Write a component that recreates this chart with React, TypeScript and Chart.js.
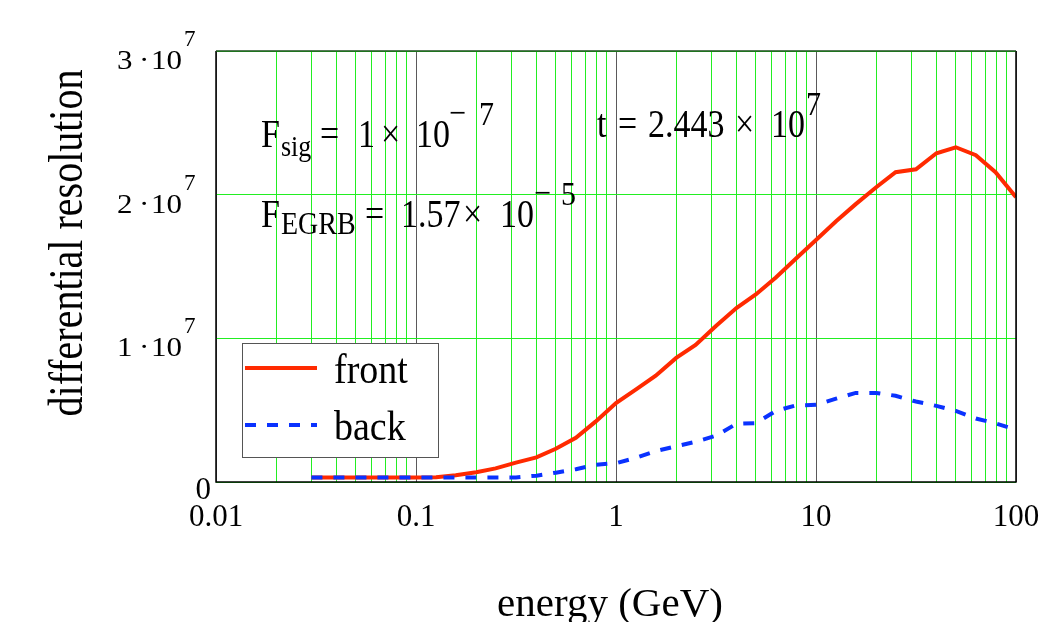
import React, { useEffect, useRef } from 'react';
import { Chart, registerables } from 'chart.js';
Chart.register(...registerables);

const FONT = '"Liberation Serif", "Times New Roman", serif';
const RED = '#ff2a00';
const BLUE = '#0a32ff';
const GREEN = '#22ee22';
const DECADE_GRAY = '#5a5a5a';

// energy (GeV)
const energies = [0.03, 0.04, 0.05, 0.063, 0.079, 0.1, 0.126, 0.158, 0.2, 0.25, 0.316, 0.4, 0.5, 0.63, 0.79, 1, 1.26, 1.58, 2, 2.5, 3.16, 4, 5, 6.3, 7.9, 10, 12.6, 15.8, 20, 25, 31.6, 40, 50, 63, 79, 100];
// differential resolution
const frontValues = [3.2e5, 3.2e5, 3.2e5, 3.2e5, 3.2e5, 3.2e5, 3.3e5, 4.7e5, 6.8e5, 9.5e5, 1.35e6, 1.71e6, 2.31e6, 3.08e6, 4.2e6, 5.5e6, 6.45e6, 7.4e6, 8.64e6, 9.54e6, 1.086e7, 1.211e7, 1.305e7, 1.423e7, 1.552e7, 1.684e7, 1.815e7, 1.934e7, 2.052e7, 2.156e7, 2.177e7, 2.288e7, 2.33e7, 2.275e7, 2.156e7, 1.983e7];
const backValues = [3.2e5, 3.2e5, 3.2e5, 3.2e5, 3.2e5, 3.2e5, 3.2e5, 3.2e5, 3.2e5, 3.2e5, 3.2e5, 4.4e5, 6.5e5, 8.9e5, 1.2e6, 1.31e6, 1.69e6, 2.15e6, 2.49e6, 2.8e6, 3.22e6, 4.05e6, 4.1e6, 4.95e6, 5.33e6, 5.37e6, 5.8e6, 6.2e6, 6.2e6, 6.0e6, 5.6e6, 5.3e6, 4.95e6, 4.42e6, 4.08e6, 3.65e6];

const xTickLabels = ['0.01', '0.1', '1', '10', '100'];
const yTickValues = [0, 1e7, 2e7, 3e7];
const yTickMantissas = ['0', '1', '2', '3'];
const legendOrder = ['front', 'back'];

const isDecade = (v: number) => Math.abs(Math.log10(v) - Math.round(Math.log10(v))) < 1e-6;

function buildLogTicks() {
  const t: { value: number }[] = [];
  for (let k = -2; k < 2; k++) {
    for (let m = 1; m < 10; m++) t.push({ value: Number((m * Math.pow(10, k)).toPrecision(6)) });
  }
  t.push({ value: 100 });
  return t;
}

type Piece = { t: string; x: number; y: number; s: number };
const annotationPieces: Piece[] = [
  { t: 'F', x: 261, y: 147, s: 34 },
  { t: 'sig', x: 281, y: 156, s: 26 },
  { t: '=', x: 320, y: 147, s: 34 },
  { t: '1', x: 358, y: 147, s: 34 },
  { t: '×', x: 381, y: 147, s: 34 },
  { t: '10', x: 416, y: 147, s: 34 },
  { t: '−', x: 449, y: 124, s: 30 },
  { t: '7', x: 479, y: 125, s: 30 },
  { t: 'F', x: 261, y: 227, s: 34 },
  { t: 'EGRB', x: 281, y: 234, s: 28 },
  { t: '=', x: 365, y: 227, s: 34 },
  { t: '1.57', x: 401, y: 227, s: 34 },
  { t: '×', x: 463, y: 227, s: 34 },
  { t: '10', x: 500, y: 227, s: 34 },
  { t: '−', x: 534, y: 204, s: 30 },
  { t: '5', x: 561, y: 205, s: 30 },
  { t: 't', x: 597, y: 137, s: 34 },
  { t: '=', x: 618, y: 137, s: 34 },
  { t: '2.443', x: 648, y: 137, s: 34 },
  { t: '×', x: 735, y: 137, s: 34 },
  { t: '10', x: 771, y: 137, s: 34 },
  { t: '7', x: 806, y: 115, s: 30 },
];

function tallText(ctx: CanvasRenderingContext2D, t: string, x: number, y: number, sy: number) {
  ctx.save();
  ctx.translate(x, y);
  ctx.scale(1, sy);
  ctx.fillText(t, 0, 0);
  ctx.restore();
}

const overlayPlugin = {
  id: 'overlay',
  afterDatasetsDraw(chart: any) {
    const ctx: CanvasRenderingContext2D = chart.ctx;
    const { left, right, top, bottom } = chart.chartArea;
    ctx.save();
    // annotations
    ctx.fillStyle = '#000';
    ctx.textAlign = 'left';
    ctx.textBaseline = 'alphabetic';
    for (const p of annotationPieces) {
      ctx.font = `${p.s}px ${FONT}`;
      tallText(ctx, p.t, p.x, p.y, 1.15);
    }
    // legend
    const bx = 242, by = 343, bw = 196, bh = 114;
    ctx.fillStyle = '#fff';
    ctx.fillRect(bx, by, bw, bh);
    ctx.strokeStyle = '#555';
    ctx.lineWidth = 1;
    ctx.strokeRect(bx + 0.5, by + 0.5, bw, bh);
    legendOrder.forEach((name, i) => {
      const ds = chart.data.datasets.find((d: any) => d.label === name);
      const ly = by + 25 + i * 57;
      ctx.beginPath();
      ctx.strokeStyle = ds.borderColor;
      ctx.lineWidth = 4;
      ctx.setLineDash(ds.borderDash || []);
      ctx.moveTo(245, ly);
      ctx.lineTo(317, ly);
      ctx.stroke();
      ctx.setLineDash([]);
      ctx.fillStyle = '#000';
      ctx.font = `38px ${FONT}`;
      tallText(ctx, name, 334, ly + 15, 1.12);
    });
    // border
    ctx.strokeStyle = '#000';
    ctx.lineWidth = 1.5;
    ctx.beginPath();
    ctx.moveTo(left, top);
    ctx.lineTo(left, bottom);
    ctx.lineTo(right, bottom);
    ctx.lineTo(right, top);
    ctx.stroke();
    ctx.strokeStyle = '#1e4a1e';
    ctx.beginPath();
    ctx.moveTo(left, top);
    ctx.lineTo(right, top);
    ctx.stroke();
    // y tick labels
    const ys = chart.scales.y;
    yTickValues.forEach((v, i) => {
      const gy = ys.getPixelForValue(v);
      ctx.fillStyle = '#000';
      if (v === 0) {
        ctx.font = `31px ${FONT}`;
        ctx.textAlign = 'right';
        ctx.fillText('0', 211, gy + 17);
        return;
      }
      ctx.textAlign = 'left';
      ctx.font = `31px ${FONT}`;
      tallText(ctx, yTickMantissas[i], 117, gy + 18, 0.88);
      tallText(ctx, '·', 139, gy + 18, 0.88);
      tallText(ctx, '10', 151, gy + 18, 0.88);
      ctx.font = `23px ${FONT}`;
      ctx.fillText('7', 184, gy - 5);
    });
    // axis titles
    ctx.textAlign = 'center';
    ctx.font = `41px ${FONT}`;
    ctx.fillText('energy (GeV)', 610, 616);
    ctx.translate(82, 243);
    ctx.rotate(-Math.PI / 2);
    ctx.scale(1, 1.2);
    ctx.font = `40px ${FONT}`;
    ctx.fillText('differential resolution', 0, 0);
    ctx.restore();
  },
};

export default function App() {
  const ref = useRef<HTMLCanvasElement>(null);
  useEffect(() => {
    document.body.style.margin = '0';
    const canvas = ref.current!;
    const chart = new Chart(canvas, {
      type: 'line',
      data: {
        datasets: [
          {
            label: 'back',
            data: energies.map((e, i) => ({ x: e, y: backValues[i] })),
            borderColor: BLUE,
            borderWidth: 4,
            borderDash: [11, 11],
            borderCapStyle: 'butt',
            pointRadius: 0,
            tension: 0,
            fill: false,
          },
          {
            label: 'front',
            data: energies.map((e, i) => ({ x: e, y: frontValues[i] })),
            borderColor: RED,
            borderWidth: 4,
            pointRadius: 0,
            tension: 0,
            fill: false,
          },
        ],
      },
      options: {
        animation: false,
        responsive: false,
        devicePixelRatio: 1,
        layout: { padding: { left: 216, right: 25, top: 51, bottom: 0 } },
        plugins: { legend: { display: false }, tooltip: { enabled: false } },
        scales: {
          x: {
            type: 'logarithmic',
            min: 0.01,
            max: 100,
            afterBuildTicks: (s: any) => { s.ticks = buildLogTicks(); },
            afterFit: (s: any) => { s.height = 140; s.paddingLeft = 0; s.paddingRight = 0; },
            border: { display: false },
            grid: {
              drawTicks: false,
              lineWidth: 1,
              color: (c: any) => (c.tick && isDecade(c.tick.value) ? DECADE_GRAY : GREEN),
            },
            ticks: {
              autoSkip: false,
              maxRotation: 0,
              padding: 17,
              color: '#000',
              font: { family: FONT, size: 31 },
              callback: (v: any) => {
                const n = Number(v);
                if (!isDecade(n)) return '';
                const idx = Math.round(Math.log10(n)) + 2;
                return xTickLabels[idx];
              },
            },
          },
          y: {
            min: 0,
            max: 3e7,
            afterBuildTicks: (s: any) => { s.ticks = yTickValues.map((v) => ({ value: v })); },
            afterFit: (s: any) => { s.width = 0; s.paddingTop = 0; s.paddingBottom = 0; },
            border: { display: false },
            grid: { drawTicks: false, color: GREEN, lineWidth: 1 },
            ticks: { display: false },
          },
        },
      },
      plugins: [overlayPlugin],
    } as any);
    return () => chart.destroy();
  }, []);
  return (
    <div style={{ position: 'fixed', left: 0, top: 0, width: 1041, height: 622, background: '#fff' }}>
      <canvas ref={ref} width={1041} height={622} style={{ display: 'block' }} />
    </div>
  );
}
